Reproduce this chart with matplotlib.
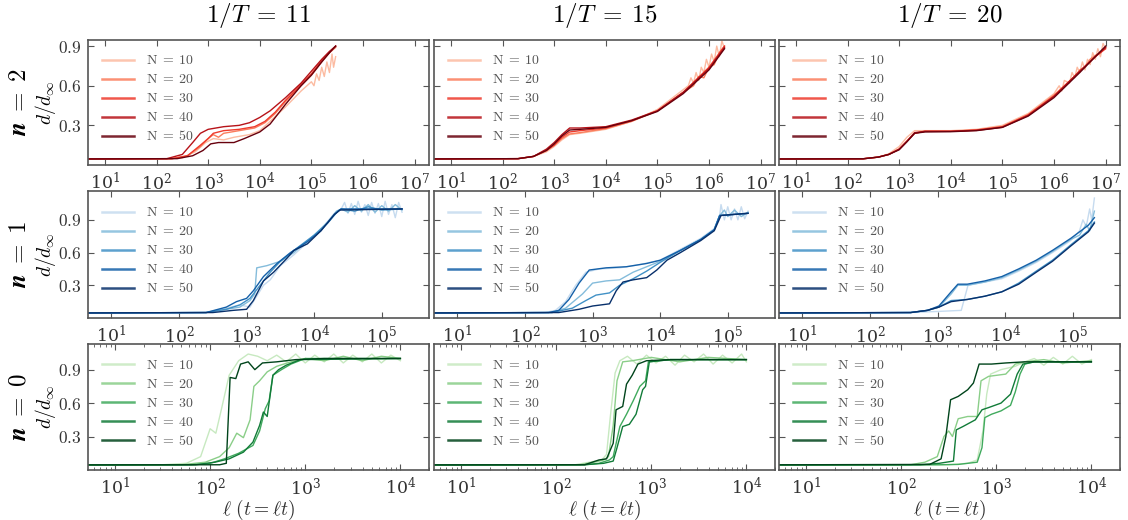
import numpy as np
import matplotlib
matplotlib.use("Agg")
import matplotlib.pyplot as plt
from matplotlib.ticker import FuncFormatter, LogLocator, NullLocator, LogFormatterMathtext

plt.rcParams['mathtext.fontset'] = 'cm'
plt.rcParams['font.family'] = ['DejaVu Serif']

# system sizes, temperatures, and n
N_values = [10, 20, 30, 40, 50]
inv_T = [11, 15, 20]
n_values = [2, 1, 0]

# each curve: list of (log10 l, d/d_inf) points
n2_T11 = [
    [(0, .045), (2.2, .046), (2.5, .055), (2.75, .1), (2.95, .17), (3.1, .2), (3.3, .19), (3.5, .21), (3.8, .23),
     (4.0, .26), (4.2, .33), (4.5, .44), (4.8, .56), (5.0, .63), (5.05, .6), (5.1, .69), (5.15, .64), (5.2, .74),
     (5.25, .67), (5.3, .78), (5.35, .7), (5.4, .84), (5.43, .74), (5.47, .82)],
    [(0, .045), (2.3, .048), (2.6, .07), (2.85, .14), (3.0, .2), (3.1, .23), (3.2, .21), (3.3, .24), (3.6, .26),
     (3.9, .28), (4.1, .32), (4.3, .39), (4.5, .48), (4.8, .6), (5.0, .68), (5.2, .78), (5.35, .85), (5.47, .89)],
    [(0, .045), (2.3, .048), (2.6, .07), (2.85, .15), (3.0, .2), (3.1, .24), (3.3, .26), (3.6, .27), (3.9, .29),
     (4.1, .33), (4.3, .4), (4.5, .49), (4.8, .61), (5.0, .69), (5.2, .79), (5.35, .85), (5.47, .9)],
    [(0, .045), (2.2, .048), (2.5, .08), (2.7, .17), (2.85, .24), (3.0, .27), (3.3, .29), (3.6, .3), (3.8, .32),
     (4.0, .36), (4.2, .41), (4.5, .51), (4.8, .62), (5.0, .71), (5.2, .8), (5.35, .86), (5.47, .9)],
    [(0, .045), (2.4, .048), (2.7, .07), (2.9, .11), (3.05, .16), (3.2, .17), (3.5, .17), (3.7, .2), (4.0, .25),
     (4.2, .31), (4.5, .46), (4.8, .6), (5.0, .68), (5.2, .78), (5.35, .85), (5.47, .9)],
]
n2_T15 = [
    [(0, .045), (2.3, .048), (2.6, .065), (2.85, .1), (3.0, .14), (3.15, .19), (3.3, .23), (3.5, .24), (4.0, .27),
     (4.5, .33), (5.0, .42), (5.5, .57), (5.6, .6), (5.65, .66), (5.7, .62), (5.75, .7), (5.8, .64), (5.85, .74),
     (5.9, .7), (5.95, .8), (6.0, .74), (6.05, .84), (6.1, .78), (6.15, .9), (6.2, .82), (6.25, .94), (6.3, .88)],
    [(0, .045), (2.3, .048), (2.6, .065), (2.85, .11), (3.0, .15), (3.15, .2), (3.3, .235), (3.5, .245), (4.0, .275),
     (4.5, .33), (5.0, .41), (5.5, .55), (5.7, .6), (5.8, .67), (5.9, .66), (6.0, .74), (6.1, .76), (6.2, .85),
     (6.3, .9)],
    [(0, .045), (2.3, .048), (2.6, .065), (2.85, .11), (3.0, .15), (3.15, .21), (3.3, .25), (3.5, .26), (4.0, .28),
     (4.5, .335), (5.0, .41), (5.5, .55), (6.0, .74), (6.3, .9)],
    [(0, .045), (2.3, .048), (2.6, .065), (2.85, .12), (3.0, .17), (3.15, .23), (3.3, .28), (3.5, .28), (4.0, .29),
     (4.5, .34), (5.0, .41), (5.5, .55), (6.0, .73), (6.3, .89)],
    [(0, .045), (2.3, .048), (2.6, .065), (2.85, .11), (3.0, .16), (3.15, .22), (3.3, .265), (3.5, .27), (4.0, .285),
     (4.5, .335), (5.0, .405), (5.5, .54), (6.0, .72), (6.3, .88)],
]
n2_T20 = [
    [(0, .045), (2.3, .047), (2.6, .06), (2.8, .085), (3.0, .14), (3.15, .21), (3.3, .26), (3.5, .26), (4.0, .26),
     (4.5, .27), (5.0, .3), (5.5, .39), (6.0, .54), (6.1, .6), (6.15, .56), (6.2, .64), (6.3, .62), (6.35, .7),
     (6.4, .66), (6.45, .74), (6.5, .7), (6.55, .78), (6.6, .72), (6.65, .8), (6.7, .76), (6.75, .85), (6.8, .8),
     (6.85, .88), (6.9, .82), (6.95, .92), (7.0, .88)],
    [(0, .045), (2.3, .047), (2.6, .06), (2.8, .08), (3.0, .12), (3.15, .18), (3.3, .24), (3.5, .255), (4.0, .255),
     (4.5, .265), (5.0, .29), (5.5, .38), (6.0, .53), (6.2, .6), (6.4, .67), (6.5, .72), (6.6, .74), (6.7, .8),
     (6.8, .83), (6.9, .85), (7.0, .89)],
    [(0, .045), (2.3, .047), (2.6, .06), (2.8, .08), (3.0, .12), (3.15, .18), (3.3, .24), (3.5, .255), (4.0, .255),
     (4.5, .265), (5.0, .29), (5.5, .38), (6.0, .52), (6.5, .71), (6.8, .82), (7.0, .88)],
    [(0, .045), (2.3, .047), (2.6, .06), (2.8, .08), (3.0, .12), (3.15, .18), (3.3, .245), (3.5, .255), (4.0, .255),
     (4.5, .262), (5.0, .285), (5.5, .375), (6.0, .52), (6.5, .71), (6.8, .82), (7.0, .89)],
    [(0, .045), (2.3, .047), (2.6, .06), (2.8, .08), (3.0, .115), (3.15, .175), (3.3, .24), (3.5, .25), (4.0, .252),
     (4.5, .26), (5.0, .285), (5.5, .37), (6.0, .51), (6.5, .7), (6.8, .82), (7.0, .9)],
]
n1_T11 = [
    [(0, .045), (2.4, .05), (2.7, .09), (2.9, .12), (3.05, .1), (3.15, .2), (3.25, .3), (3.35, .35), (3.5, .48),
     (3.7, .58), (4.0, .75), (4.15, .85), (4.3, .96), (4.4, 1.0), (4.45, 1.06), (4.5, .96), (4.55, 1.05),
     (4.6, .95), (4.65, 1.07), (4.7, .97), (4.75, 1.04), (4.8, .94), (4.85, 1.06), (4.9, .96), (4.95, 1.05),
     (5.0, .93), (5.05, 1.07), (5.1, .95), (5.15, 1.04), (5.2, .92), (5.25, 1.06), (5.3, .97)],
    [(0, .045), (2.4, .05), (2.7, .08), (2.9, .1), (3.05, .16), (3.12, .22), (3.15, .46), (3.3, .48), (3.5, .52),
     (3.7, .6), (4.0, .76), (4.2, .88), (4.33, .98), (4.4, 1.0), (4.5, .97), (4.6, 1.03), (4.7, .98), (4.8, 1.04),
     (4.9, .97), (5.0, 1.03), (5.1, .98), (5.2, 1.04), (5.3, .99)],
    [(0, .045), (2.4, .05), (2.7, .08), (2.9, .12), (3.05, .18), (3.2, .3), (3.35, .42), (3.5, .52), (3.7, .62),
     (4.0, .76), (4.2, .87), (4.35, .98), (4.4, 1.0), (4.6, .98), (4.8, 1.02), (5.0, .99), (5.3, 1.0)],
    [(0, .045), (2.4, .05), (2.7, .1), (2.85, .15), (3.0, .18), (3.1, .25), (3.25, .38), (3.45, .5), (3.65, .6),
     (3.9, .7), (4.1, .8), (4.3, .95), (4.4, 1.0), (5.3, 1.0)],
    [(0, .045), (2.5, .05), (2.8, .07), (3.0, .08), (3.1, .16), (3.25, .34), (3.4, .42), (3.6, .55), (3.7, .62),
     (3.9, .68), (4.1, .8), (4.3, .95), (4.38, .99), (5.3, 1.0)],
]
n1_T15 = [
    [(0, .045), (2.3, .05), (2.45, .07), (2.6, .15), (2.75, .3), (2.9, .42), (3.1, .45), (3.4, .46), (3.7, .49),
     (4.0, .53), (4.3, .63), (4.6, .73), (4.8, .82), (4.88, .94), (4.9, 1.04), (4.95, .9), (5.0, 1.02),
     (5.05, .9), (5.1, 1.0), (5.15, .9), (5.2, 1.02), (5.25, .91), (5.3, .98)],
    [(0, .045), (2.4, .05), (2.6, .09), (2.85, .22), (3.0, .32), (3.2, .34), (3.4, .35), (3.6, .42), (3.8, .47),
     (4.0, .52), (4.3, .62), (4.6, .72), (4.8, .81), (4.88, .94), (4.95, .99), (5.0, .93), (5.1, .99), (5.2, .93),
     (5.3, .97)],
    [(0, .045), (2.4, .05), (2.7, .09), (2.9, .16), (3.05, .21), (3.25, .23), (3.4, .3), (3.6, .36), (3.8, .43),
     (4.0, .51), (4.3, .62), (4.6, .72), (4.8, .81), (4.88, .94), (5.3, .96)],
    [(0, .045), (2.35, .05), (2.5, .07), (2.65, .17), (2.8, .32), (2.95, .44), (3.2, .46), (3.5, .47), (3.8, .5),
     (4.0, .53), (4.3, .62), (4.6, .72), (4.8, .81), (4.88, .94), (5.3, .96)],
    [(0, .045), (2.5, .05), (2.8, .08), (3.0, .11), (3.25, .13), (3.35, .25), (3.45, .33), (3.6, .35), (3.8, .37),
     (3.95, .44), (4.1, .53), (4.3, .6), (4.6, .71), (4.8, .8), (4.9, .94), (5.3, .96)],
]
n1_T20 = [
    [(0, .045), (2.6, .05), (3.0, .06), (3.35, .07), (3.45, .3), (3.7, .33), (3.95, .36), (4.2, .43), (4.46, .51),
     (4.7, .6), (4.97, .71), (5.1, .8), (5.15, .9), (5.2, .84), (5.25, 1.0), (5.28, .9), (5.32, 1.1)],
    [(0, .045), (2.6, .05), (2.85, .07), (3.02, .1), (3.2, .22), (3.3, .3), (3.44, .3), (3.7, .33), (3.95, .37),
     (4.2, .44), (4.46, .52), (4.7, .61), (4.97, .72), (5.1, .76), (5.2, .86), (5.25, .8), (5.32, .98)],
    [(0, .045), (2.6, .05), (2.85, .07), (3.02, .1), (3.2, .16), (3.44, .17), (3.7, .2), (3.95, .24), (4.2, .32),
     (4.46, .43), (4.7, .53), (4.97, .67), (5.23, .8), (5.32, .88)],
    [(0, .045), (2.6, .05), (2.85, .07), (3.02, .11), (3.2, .24), (3.3, .31), (3.44, .31), (3.7, .34), (3.95, .38),
     (4.2, .45), (4.46, .53), (4.7, .62), (4.97, .73), (5.23, .85), (5.32, .92)],
    [(0, .045), (2.6, .05), (2.85, .07), (3.02, .1), (3.2, .15), (3.44, .17), (3.7, .2), (3.95, .24), (4.2, .31),
     (4.46, .42), (4.7, .52), (4.97, .66), (5.23, .79), (5.32, .87)],
]
n0_T11 = [
    [(0, .045), (1.5, .047), (1.75, .06), (1.9, .12), (2.0, .37), (2.06, .33), (2.12, .55), (2.2, .85), (2.3, .98),
     (2.4, 1.04), (2.5, 1.02), (2.6, .98), (2.7, 1.03), (2.8, .97), (2.9, 1.04), (3.0, .96), (3.1, 1.03),
     (3.2, .97), (3.3, 1.04), (3.4, .96), (3.5, 1.03), (3.6, .97), (3.7, 1.04), (3.8, .96), (3.9, 1.03), (4.0, .98)],
    [(0, .045), (1.7, .047), (1.95, .07), (2.1, .12), (2.2, .2), (2.28, .33), (2.35, .29), (2.42, .45), (2.46, .75),
     (2.52, .8), (2.6, .88), (2.7, .93), (2.85, .97), (3.0, 1.0), (3.2, .98), (3.4, 1.02), (3.6, .98), (3.8, 1.02),
     (4.0, 1.0)],
    [(0, .045), (1.8, .047), (2.0, .06), (2.15, .1), (2.3, .15), (2.45, .22), (2.52, .35), (2.58, .55), (2.62, .62),
     (2.66, .85), (2.75, .9), (2.85, .95), (3.0, 1.0), (4.0, 1.0)],
    [(0, .045), (1.85, .047), (2.05, .07), (2.2, .1), (2.35, .16), (2.45, .25), (2.52, .4), (2.56, .52), (2.6, .48),
     (2.66, .85), (2.72, .9), (2.8, .94), (2.95, .99), (4.0, 1.0)],
    [(0, .045), (2.1, .047), (2.17, .06), (2.21, .83), (2.27, .82), (2.32, .95), (2.4, .97), (2.47, .9), (2.55, .96),
     (2.7, .97), (2.9, .99), (3.2, 1.0), (4.0, 1.0)],
]
n0_T15 = [
    [(0, .045), (2.2, .047), (2.35, .07), (2.48, .09), (2.53, .14), (2.57, .48), (2.62, .87), (2.67, .98),
     (2.75, 1.02), (2.85, .95), (2.95, 1.03), (3.05, .96), (3.15, 1.02), (3.25, .94), (3.35, 1.03), (3.45, .97),
     (3.55, 1.04), (3.65, .95), (3.75, 1.03), (3.85, .96), (3.95, 1.04), (4.0, .97)],
    [(0, .045), (2.25, .047), (2.4, .07), (2.5, .09), (2.55, .12), (2.6, .4), (2.64, .8), (2.7, .97), (2.8, .98),
     (3.0, 1.01), (3.3, .97), (3.6, 1.01), (4.0, .99)],
    [(0, .045), (2.3, .047), (2.45, .06), (2.56, .09), (2.6, .12), (2.67, .39), (2.74, .5), (2.81, .62), (2.88, .75),
     (2.94, .8), (2.97, .97), (3.2, .99), (4.0, .99)],
    [(0, .045), (2.3, .047), (2.5, .06), (2.6, .08), (2.64, .2), (2.7, .39), (2.77, .41), (2.84, .5), (2.91, .72),
     (2.94, .75), (2.98, .97), (3.2, .99), (4.0, .99)],
    [(0, .045), (2.3, .047), (2.45, .09), (2.53, .1), (2.6, .24), (2.63, .54), (2.7, .57), (2.74, .77), (2.8, .85),
     (2.86, .95), (2.95, .98), (3.2, .99), (4.0, .99)],
]
n0_T20 = [
    [(0, .045), (2.5, .047), (2.7, .06), (2.8, .09), (2.86, .35), (2.9, .68), (2.94, .86), (3.05, .9), (3.2, .93),
     (3.3, .97), (3.4, 1.0), (3.5, .94), (3.6, 1.01), (3.7, .95), (3.8, 1.02), (3.9, .95), (4.0, .99)],
    [(0, .045), (2.1, .047), (2.25, .07), (2.38, .12), (2.45, .3), (2.5, .35), (2.54, .3), (2.6, .46), (2.7, .48),
     (2.8, .48), (2.84, .8), (2.92, .84), (3.1, .86), (3.2, .95), (3.3, .97), (3.5, .99), (3.7, .96), (4.0, .98)],
    [(0, .045), (2.4, .047), (2.6, .05), (2.8, .07), (2.85, .2), (2.88, .47), (2.95, .5), (3.05, .53), (3.15, .58),
     (3.2, .7), (3.25, .86), (3.3, .95), (3.4, .97), (4.0, .97)],
    [(0, .045), (2.2, .047), (2.4, .06), (2.55, .08), (2.58, .36), (2.65, .39), (2.78, .45), (2.85, .54), (2.92, .56),
     (3.05, .6), (3.15, .68), (3.22, .86), (3.28, .95), (3.4, .97), (4.0, .97)],
    [(0, .045), (2.3, .05), (2.42, .1), (2.47, .3), (2.52, .63), (2.6, .66), (2.7, .72), (2.76, .78), (2.82, .95),
     (2.95, .95), (3.1, .96), (3.3, .97), (4.0, .97)],
]

panels = [[n2_T11, n2_T15, n2_T20],
          [n1_T11, n1_T15, n1_T20],
          [n0_T11, n0_T15, n0_T20]]
row_cmaps = ['Reds', 'Blues', 'Greens']
row_xlim = [(4.7, 1.9e7), (4.5, 5e5), (5.2, 2e4)]
row_ylim = [(0.0, 0.95), (0.0, 1.16), (0.0, 1.13)]

fig = plt.figure(figsize=(11.28, 5.2), dpi=100)
W, H = 1128, 520
col_left = [88, 434, 779]
col_w = 341
row_top = [39.5, 191.5, 344]
row_h = [125.5, 126.5, 126]

spine_c = '#555555'
for r in range(3):
    cols = plt.get_cmap(row_cmaps[r])(np.linspace(0.25, 1.0, 5))
    for c in range(3):
        ax = fig.add_axes([col_left[c] / W, 1 - (row_top[r] + row_h[r]) / H, col_w / W, row_h[r] / H])
        for k, curve in enumerate(panels[r][c]):
            lx = np.array([p[0] for p in curve])
            y = np.array([p[1] for p in curve])
            ax.plot(10 ** lx, y, color=cols[k], lw=1.0, label=r'$\mathrm{N}\;=\;%d$' % N_values[k])
        ax.set_xscale('log')
        ax.set_xlim(*row_xlim[r])
        ax.set_ylim(*row_ylim[r])
        ax.set_yticks([0.3, 0.6, 0.9])
        ax.xaxis.set_major_locator(LogLocator(base=10, numticks=12))
        ax.xaxis.set_major_formatter(LogFormatterMathtext())
        if r < 2:
            ax.xaxis.set_minor_locator(NullLocator())
        else:
            ax.xaxis.set_minor_locator(LogLocator(base=10, subs=np.arange(2, 10), numticks=12))
        ax.yaxis.set_major_formatter(FuncFormatter(lambda v, p: r'$%.1f$' % v))
        ax.tick_params(which='both', direction='in', top=True, right=True, color=spine_c,
                       labelsize=12.5, labelcolor='#333333', pad=5)
        ax.tick_params(which='major', length=4, width=0.8)
        ax.tick_params(which='minor', length=2, width=0.6)
        for s in ax.spines.values():
            s.set_color(spine_c)
            s.set_linewidth(1.2)
        if c > 0:
            ax.set_yticklabels([])
        else:
            ax.set_ylabel(r'$d/d_\infty$', fontsize=14, labelpad=0)
        if r == 2:
            ax.set_xlabel(r'$\ell\ (t = \ell t)$', fontsize=14, color='#333333', labelpad=-1)
        leg = ax.legend(loc='upper left', frameon=False, fontsize=10, handlelength=2.3,
                        labelspacing=0.36, borderaxespad=0.6, labelcolor='#555555', handletextpad=0.9)
        for ln in leg.get_lines():
            ln.set_linewidth(1.8)
            ln.set_alpha(0.85)
        if r == 0:
            fig.text((col_left[c] + col_w / 2) / W, 1 - 16 / H, r'$1/T\;=\;%d$' % inv_T[c],
                     ha='center', va='center', fontsize=18)
    fig.text(19 / W, 1 - (row_top[r] + row_h[r] / 2) / H,
             r'$\boldsymbol{n}\;\mathbf{=}\;\mathbf{%d}$' % n_values[r],
             rotation=90, ha='center', va='center', fontsize=18)

fig.savefig('out.png', dpi=100)
